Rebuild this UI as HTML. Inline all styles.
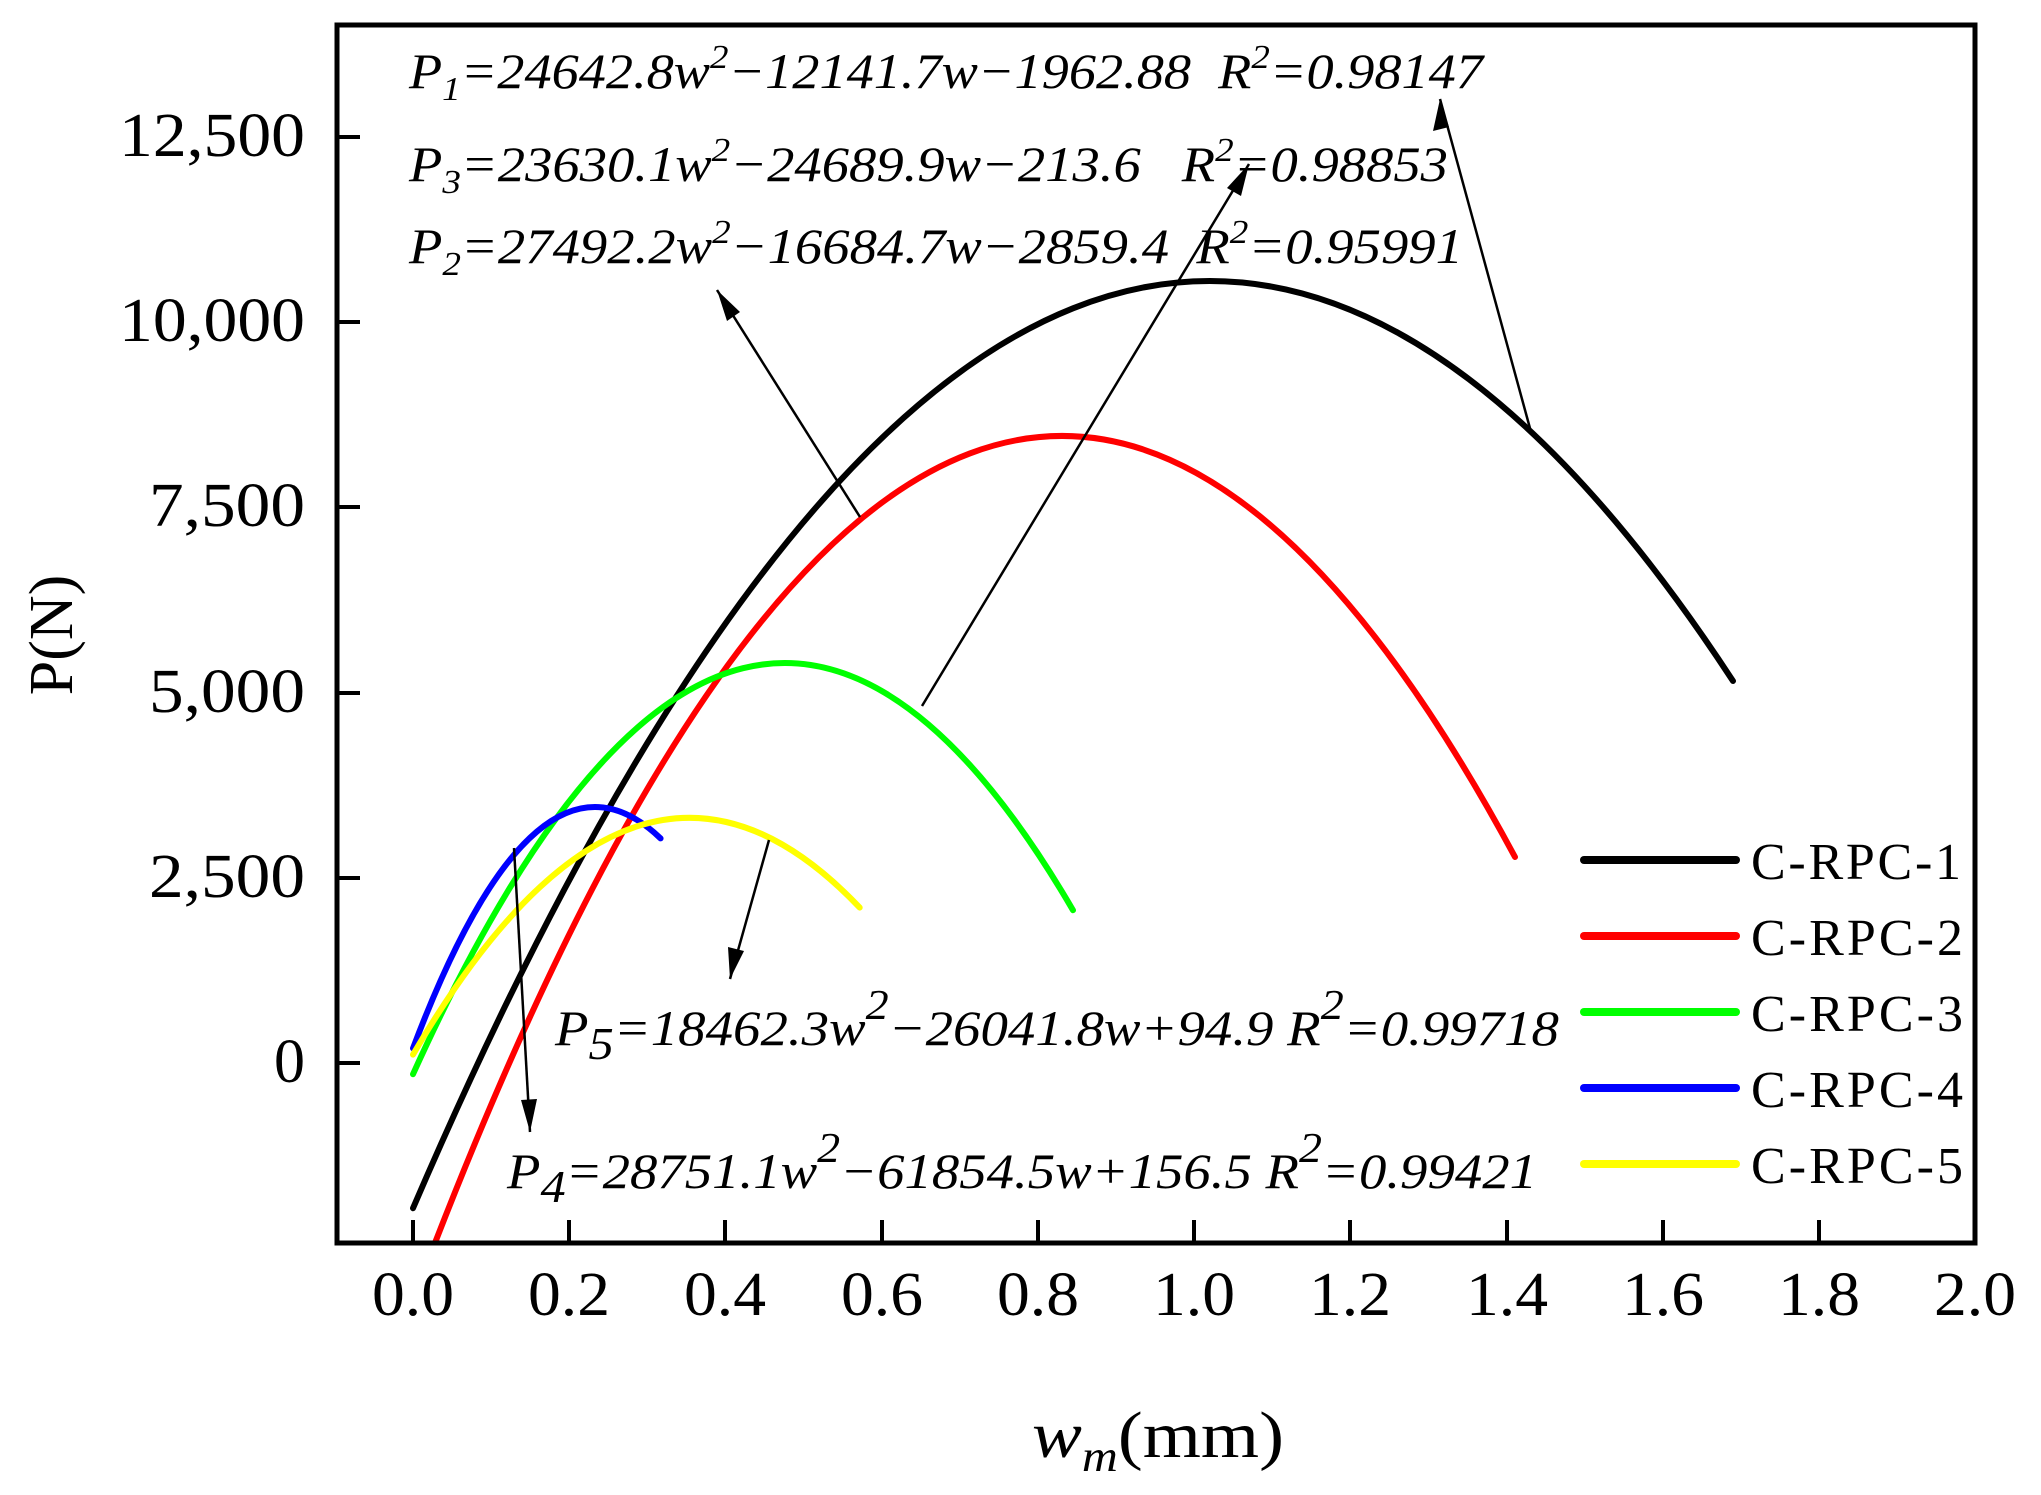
<!DOCTYPE html>
<html><head><meta charset="utf-8"><style>
html,body{margin:0;padding:0;background:#fff;}
svg{display:block;}
text{font-family:"Liberation Serif",serif;fill:#000;}
.eq{font-style:italic;font-size:50px;}
.tk{font-size:62px;}
</style></head><body>
<svg width="2041" height="1495" viewBox="0 0 2041 1495" xmlns="http://www.w3.org/2000/svg">
<defs>
<clipPath id="cp"><rect x="339" y="27" width="1634" height="1214"/></clipPath>
</defs>
<g clip-path="url(#cp)" fill="none" stroke-width="6" stroke-linecap="round">
<path d="M413,1208.2 Q1073,-328 1733,681" stroke="#000"/>
<path d="M424.7,1269.6 Q969.9,-156.5 1515,857" stroke="#ff0000"/>
<path d="M413,1074.2 Q743,344.2 1073,910.2" stroke="#00ff00"/>
<path d="M413,1048.3 Q536.8,720 660.6,838.4" stroke="#0000ff"/>
<path d="M413,1054.6 Q636.3,672 859.7,907.6" stroke="#ffff00"/>
</g>
<rect x="337" y="25" width="1638" height="1218" fill="none" stroke="#000" stroke-width="5"/>
<g stroke="#000" stroke-width="4">
<line x1="413" y1="1243" x2="413" y2="1220"/><line x1="569" y1="1243" x2="569" y2="1220"/>
<line x1="725" y1="1243" x2="725" y2="1220"/><line x1="882" y1="1243" x2="882" y2="1220"/>
<line x1="1038" y1="1243" x2="1038" y2="1220"/><line x1="1194" y1="1243" x2="1194" y2="1220"/>
<line x1="1350" y1="1243" x2="1350" y2="1220"/><line x1="1507" y1="1243" x2="1507" y2="1220"/>
<line x1="1663" y1="1243" x2="1663" y2="1220"/><line x1="1819" y1="1243" x2="1819" y2="1220"/>
<line x1="337" y1="1063" x2="360" y2="1063"/><line x1="337" y1="878" x2="360" y2="878"/>
<line x1="337" y1="693" x2="360" y2="693"/><line x1="337" y1="507" x2="360" y2="507"/>
<line x1="337" y1="322" x2="360" y2="322"/><line x1="337" y1="137" x2="360" y2="137"/>
</g>
<g class="tk" text-anchor="middle">
<text x="413" y="1315" textLength="82" lengthAdjust="spacingAndGlyphs">0.0</text><text x="569" y="1315" textLength="82" lengthAdjust="spacingAndGlyphs">0.2</text><text x="725" y="1315" textLength="82" lengthAdjust="spacingAndGlyphs">0.4</text>
<text x="882" y="1315" textLength="82" lengthAdjust="spacingAndGlyphs">0.6</text><text x="1038" y="1315" textLength="82" lengthAdjust="spacingAndGlyphs">0.8</text><text x="1194" y="1315" textLength="82" lengthAdjust="spacingAndGlyphs">1.0</text>
<text x="1350" y="1315" textLength="82" lengthAdjust="spacingAndGlyphs">1.2</text><text x="1507" y="1315" textLength="82" lengthAdjust="spacingAndGlyphs">1.4</text><text x="1663" y="1315" textLength="82" lengthAdjust="spacingAndGlyphs">1.6</text>
<text x="1819" y="1315" textLength="82" lengthAdjust="spacingAndGlyphs">1.8</text><text x="1975" y="1315" textLength="82" lengthAdjust="spacingAndGlyphs">2.0</text>
</g>
<g class="tk" text-anchor="end">
<text x="305" y="1082">0</text>
<text x="305" y="897" textLength="156" lengthAdjust="spacingAndGlyphs">2,500</text>
<text x="305" y="712" textLength="156" lengthAdjust="spacingAndGlyphs">5,000</text>
<text x="305" y="526" textLength="156" lengthAdjust="spacingAndGlyphs">7,500</text>
<text x="305" y="341" textLength="186" lengthAdjust="spacingAndGlyphs">10,000</text>
<text x="305" y="156" textLength="186" lengthAdjust="spacingAndGlyphs">12,500</text>
</g>
<text class="tk" transform="translate(72,635) rotate(-90)" text-anchor="middle" font-size="64">P(N)</text>
<text x="1032" y="1457" font-size="66" textLength="252" lengthAdjust="spacingAndGlyphs"><tspan font-style="italic">w</tspan><tspan font-style="italic" font-size="44" dy="14">m</tspan><tspan dy="-14">(mm)</tspan></text>
<g stroke-width="8" stroke-linecap="round">
<line x1="1584" y1="860" x2="1736" y2="860" stroke="#000"/>
<line x1="1584" y1="936" x2="1736" y2="936" stroke="#ff0000"/>
<line x1="1584" y1="1012" x2="1736" y2="1012" stroke="#00ff00"/>
<line x1="1584" y1="1088" x2="1736" y2="1088" stroke="#0000ff"/>
<line x1="1584" y1="1164" x2="1736" y2="1164" stroke="#ffff00"/>
</g>
<g font-size="52">
<text x="1751" y="879" textLength="210">C-RPC-1</text>
<text x="1751" y="955" textLength="212">C-RPC-2</text>
<text x="1751" y="1031" textLength="212">C-RPC-3</text>
<text x="1751" y="1107" textLength="212">C-RPC-4</text>
<text x="1751" y="1183" textLength="212">C-RPC-5</text>
</g>
<text class="eq" x="409" y="88" textLength="1074" lengthAdjust="spacingAndGlyphs" xml:space="preserve">P<tspan font-size="34" dy="12">1</tspan><tspan dy="-12">=24642.8w</tspan><tspan font-size="34" dy="-20">2</tspan><tspan dy="20">−12141.7w−1962.88  R</tspan><tspan font-size="34" dy="-20">2</tspan><tspan dy="20">=0.98147</tspan></text>
<text class="eq" x="409" y="181" textLength="1039" lengthAdjust="spacingAndGlyphs" xml:space="preserve">P<tspan font-size="34" dy="12">3</tspan><tspan dy="-12">=23630.1w</tspan><tspan font-size="34" dy="-20">2</tspan><tspan dy="20">−24689.9w−213.6   R</tspan><tspan font-size="34" dy="-20">2</tspan><tspan dy="20">=0.98853</tspan></text>
<text class="eq" x="409" y="263" textLength="1054" lengthAdjust="spacingAndGlyphs" xml:space="preserve">P<tspan font-size="34" dy="12">2</tspan><tspan dy="-12">=27492.2w</tspan><tspan font-size="34" dy="-20">2</tspan><tspan dy="20">−16684.7w−2859.4  R</tspan><tspan font-size="34" dy="-20">2</tspan><tspan dy="20">=0.95991</tspan></text>
<text class="eq" x="555" y="1045" textLength="1004" lengthAdjust="spacingAndGlyphs" font-size="54" xml:space="preserve">P<tspan font-size="46" dy="14">5</tspan><tspan dy="-14">=18462.3w</tspan><tspan font-size="42" dy="-26">2</tspan><tspan dy="26">−26041.8w+94.9 R</tspan><tspan font-size="42" dy="-26">2</tspan><tspan dy="26">=0.99718</tspan></text>
<text class="eq" x="507" y="1188" textLength="1030" lengthAdjust="spacingAndGlyphs" font-size="54" xml:space="preserve">P<tspan font-size="46" dy="14">4</tspan><tspan dy="-14">=28751.1w</tspan><tspan font-size="42" dy="-26">2</tspan><tspan dy="26">−61854.5w+156.5 R</tspan><tspan font-size="42" dy="-26">2</tspan><tspan dy="26">=0.99421</tspan></text>
<g stroke="#000" stroke-width="2.5" fill="none">
<line x1="1531" y1="432" x2="1440" y2="99"/>
<line x1="922" y1="706" x2="1249" y2="164"/>
<line x1="860" y1="517" x2="717" y2="290"/>
<line x1="769" y1="840" x2="730" y2="979"/>
<line x1="514" y1="848" x2="530" y2="1132"/>
</g>
<g fill="#000">
<polygon points="1440,99 1433,131 1449,127"/>
<polygon points="1249,164 1227,188 1241,196"/>
<polygon points="717,290 727,321 740,312"/>
<polygon points="730,979 728,947 744,951"/>
<polygon points="530,1132 521,1100 537,1099"/>
</g>
</svg>
</body></html>
